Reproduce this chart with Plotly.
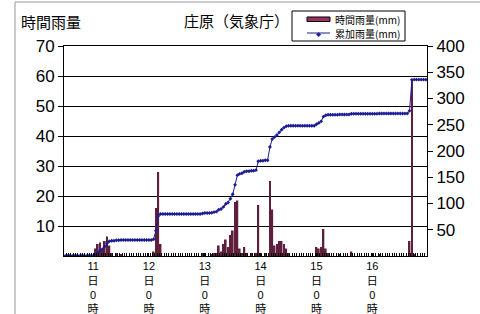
import plotly.graph_objects as go

# ---- data (index 0 = 10日12時, hourly) ----
hourly = [0]*156
_h = {13: 2.5, 14: 4, 15: 4.5, 16: 2, 17: 5, 18: 6.5, 19: 3.5, 20: 1, 22: 1, 24: 0.5,
      38: 1.5, 39: 16, 40: 28, 41: 4,
      59: 1, 60: 1, 63: 0.5, 64: 1, 65: 1, 66: 3.5, 67: 1.5, 68: 4, 69: 5.5, 70: 3,
      71: 7, 72: 8.5, 73: 18, 74: 18.5, 75: 2.5, 76: 1, 77: 3, 78: 1, 80: 1, 82: 1,
      83: 17, 84: 1, 86: 1, 88: 25, 89: 15.5, 90: 3.5, 91: 4, 92: 5, 93: 5, 94: 4,
      95: 2.5, 96: 1, 108: 3, 109: 2.5, 110: 3, 111: 9, 112: 2.5, 113: 1, 118: 0.5,
      123: 1.5, 135: 0.5, 148: 5, 149: 59, 150: 0.5}
for k, v in _h.items():
    hourly[k] = v

cumulative = (
    [0]*13 +
    [2.5, 6.5, 11, 13, 18, 24.5, 28, 29, 29, 30, 30, 30.5] +       # 13-24
    [30.5]*13 +                                                      # 25-37
    [32, 48, 76, 80] +                                               # 38-41
    [80]*17 +                                                        # 42-58
    [81, 82, 82, 82, 82.5, 83.5, 84.5, 88, 89.5, 93.5, 99, 102, 109, 117.5,
     135.5, 154, 156.5, 157.5, 160.5, 161.5, 161.5, 162.5, 162.5, 163.5,
     180.5, 181.5, 181.5, 182.5, 182.5, 207.5, 223, 226.5, 230.5, 235.5,
     240.5, 244.5, 247, 248] +                                       # 59-96
    [248]*11 +                                                       # 97-107
    [251, 253.5, 256.5, 265.5, 268, 269] +                           # 108-113
    [269]*4 + [269.5] + [269.5]*4 + [271] + [271]*11 + [271.5] +     # 114-135
    [271.5]*12 +                                                     # 136-147
    [276.5, 335.5, 336] + [336]*5                                    # 148-155
)
hours = list(range(156))

day_ticks = [12, 36, 60, 84, 108, 132]
day_labels = ["11<br>日<br>0<br>時", "12<br>日<br>0<br>時", "13<br>日<br>0<br>時",
              "14<br>日<br>0<br>時", "15<br>日<br>0<br>時", "16<br>日<br>0<br>時"]
left_ticks = [10, 20, 30, 40, 50, 60, 70]
right_ticks = [50, 100, 150, 200, 250, 300, 350, 400]

FONT = "Liberation Sans, Arial, Noto Sans CJK JP"
JP = "Noto Sans CJK JP, sans-serif"

L, R, T, B = 64, 427, 46, 256
W, H = 480, 314
def px(x): return (x - L) / (R - L)
def py(y): return (B - y) / (B - T)

fig = go.Figure()
fig.add_trace(go.Bar(x=hours, y=hourly, name="時間雨量(mm)",
                     marker=dict(color="#5e1f3d", line=dict(width=0)),
                     showlegend=False))
fig.add_trace(go.Scatter(x=hours, y=cumulative, yaxis="y2", name="累加雨量(mm)",
                         mode="lines+markers",
                         line=dict(color="#1c1c96", width=1),
                         marker=dict(symbol="diamond", size=3, color="#1c1c96"),
                         showlegend=False))

fig.update_layout(
    width=W, height=H,
    margin=dict(l=L, r=W - R, t=T, b=H - B, autoexpand=False),
    paper_bgcolor="white", plot_bgcolor="white",
    bargap=0.25,
    font=dict(family=FONT, color="black"),
    xaxis=dict(range=[-0.5, 155.5], tickmode="array", tickvals=day_ticks,
               ticktext=day_labels, ticks="inside", ticklen=3, tickcolor="black",
               showline=True, linecolor="black", linewidth=1, mirror=True,
               showgrid=False, zeroline=False, automargin=False,
               tickfont=dict(size=11, family=FONT),
               minor=dict(ticks="inside", ticklen=3, tick0=-0.5, dtick=1,
                          tickcolor="black", showgrid=False)),
    yaxis=dict(range=[0, 70], tickmode="array", tickvals=left_ticks,
               ticks="outside", ticklen=5, tickcolor="black",
               showline=True, linecolor="black", linewidth=1, automargin=False,
               showgrid=True, gridcolor="black", gridwidth=1, zeroline=False,
               tickfont=dict(size=17, family=FONT)),
    yaxis2=dict(range=[0, 400], overlaying="y", side="right", tickmode="array",
                tickvals=right_ticks, ticks="outside", ticklen=5, tickcolor="black",
                showline=True, linecolor="black", linewidth=1, automargin=False,
                showgrid=False, zeroline=False,
                tickfont=dict(size=17, family=FONT)),
)

anns = [
    dict(x=px(51), y=py(22), text="時間雨量", font=dict(size=15, family=JP)),
    dict(x=px(236), y=py(20), text="庄原（気象庁）", font=dict(size=15, family=JP)),
    dict(x=px(333), y=py(19), text="時間雨量(mm)", xanchor="left", font=dict(size=10, family=JP)),
    dict(x=px(333), y=py(33), text="累加雨量(mm)", xanchor="left", font=dict(size=10, family=JP)),
    dict(x=px(318.5), y=py(33), text="◆", font=dict(size=5, color="#1c1c96", family=JP)),
]
for a in anns:
    a.update(xref="paper", yref="paper", showarrow=False)
    a.setdefault("xanchor", "center")
    a["yanchor"] = "middle"
fig.update_layout(annotations=anns)

shapes = [
    # legend box
    dict(type="rect", x0=px(292), x1=px(405), y0=py(11), y1=py(41),
         line=dict(color="black", width=1), fillcolor="white"),
    # bar swatch
    dict(type="rect", x0=px(307), x1=px(330), y0=py(17), y1=py(21.5),
         line=dict(color="black", width=1), fillcolor="#993366"),
    # line swatch
    dict(type="line", x0=px(307), x1=px(330), y0=py(33), y1=py(33),
         line=dict(color="#1c1c96", width=1)),
    # chart frame
    dict(type="line", x0=px(15), x1=px(15), y0=py(2), y1=py(314),
         line=dict(color="#999999", width=1)),
    dict(type="line", x0=px(15), x1=px(480), y0=py(2), y1=py(2),
         line=dict(color="#999999", width=1)),
]
for s in shapes:
    s.update(xref="paper", yref="paper")
fig.update_layout(shapes=shapes)

fig.write_html("out.html", config={"displayModeBar": False},
               post_script="document.body.style.margin='0';document.body.style.overflow='hidden';")
